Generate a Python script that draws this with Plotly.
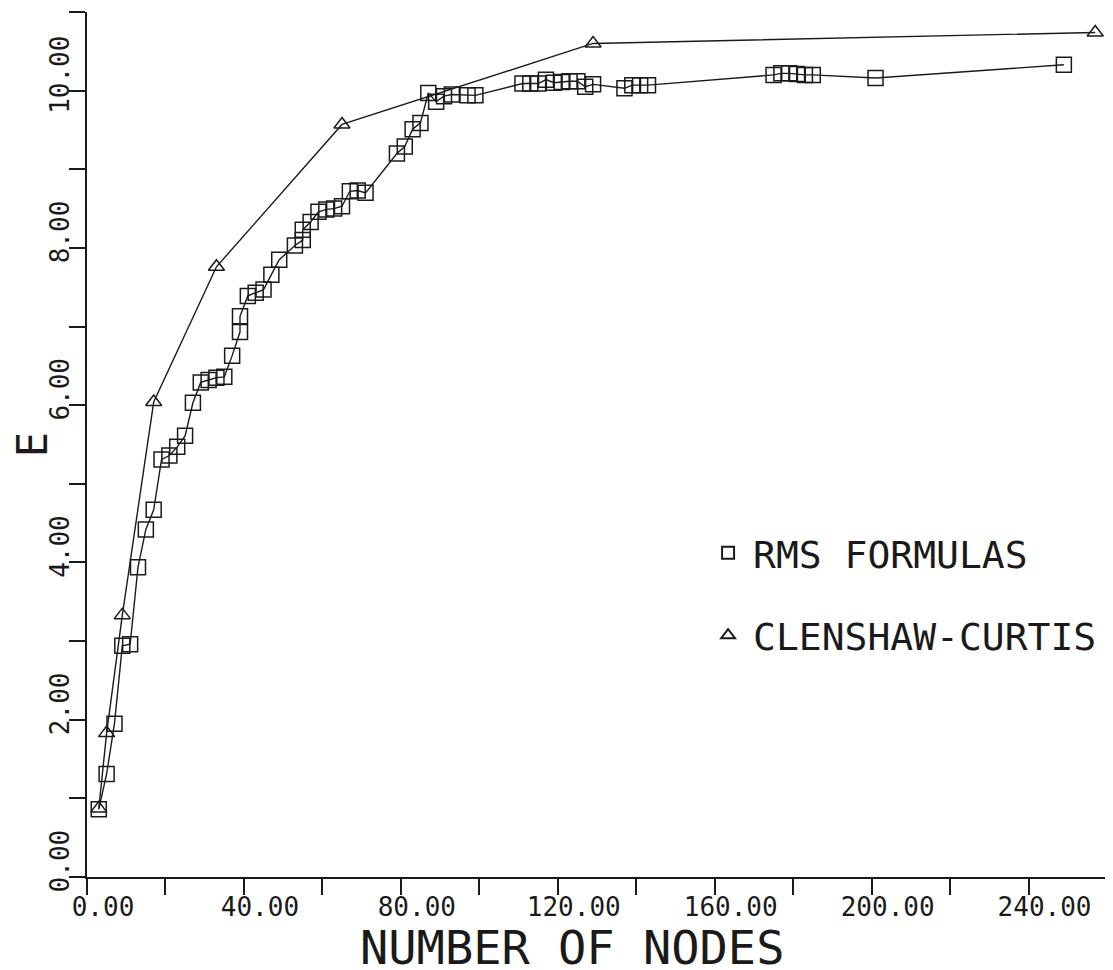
import plotly.graph_objects as go

# ---- data ----
rms_nodes = [3, 5, 7, 9, 11, 13, 15, 17, 19, 21, 23, 25, 27, 29, 31, 33, 35, 37, 39, 39,
             41, 43, 45, 47, 49, 53, 55, 55, 57, 59, 61, 63, 65, 67, 69, 71,
             79, 81, 83, 85, 87, 89, 91, 93, 97, 99,
             111, 113, 115, 117, 119, 121, 123, 125, 127, 129,
             137, 139, 141, 143,
             175, 177, 179, 181, 183, 185, 201, 249]
rms_e = [0.86, 1.31, 1.95, 2.94, 2.96, 3.94, 4.42, 4.67, 5.31, 5.36, 5.47, 5.61, 6.03, 6.29, 6.32, 6.35, 6.36, 6.63, 6.93, 7.13,
         7.39, 7.43, 7.47, 7.66, 7.85, 8.03, 8.10, 8.23, 8.33, 8.46, 8.49, 8.50, 8.53, 8.72, 8.73, 8.70,
         9.20, 9.29, 9.51, 9.59, 9.97, 9.86, 9.93, 9.95, 9.94, 9.94,
         10.09, 10.09, 10.09, 10.14, 10.10, 10.11, 10.12, 10.12, 10.05, 10.08,
         10.03, 10.07, 10.07, 10.07,
         10.20, 10.22, 10.22, 10.21, 10.20, 10.20, 10.16, 10.33]

cc_nodes = [3, 5, 9, 17, 33, 65, 129, 257]
cc_e = [0.87, 1.83, 3.33, 6.04, 7.76, 9.57, 10.60, 10.74]

series_names = ["RMS FORMULAS", "CLENSHAW-CURTIS"]
x_title = "NUMBER OF NODES"
y_title = "E"

x_tick_vals = list(range(0, 261, 20))
x_tick_text = ["0.00", "", "40.00", "", "80.00", "", "120.00", "", "160.00", "", "200.00", "", "240.00", ""]
y_tick_vals = list(range(0, 12))
y_tick_text = ["0.00", "", "2.00", "", "4.00", "", "6.00", "", "8.00", "", "10.00", ""]

FONT = "DejaVu Sans Mono"
INK = "#1a1a1a"

fig = go.Figure()
for xs, ys, name, sym, sz, grp in [
    (rms_nodes, rms_e, series_names[0], "square-open", 15, "rms"),
    (cc_nodes, cc_e, series_names[1], "triangle-up-open", 14, "cc"),
]:
    # connecting line (not in legend)
    fig.add_trace(go.Scatter(
        x=xs, y=ys, mode="lines", showlegend=False, legendgroup=grp,
        line=dict(color=INK, width=1.4), cliponaxis=False, hoverinfo="skip",
    ))
    # markers (shown in legend)
    fig.add_trace(go.Scatter(
        x=xs, y=ys, mode="markers", name=name, legendgroup=grp,
        marker=dict(symbol=sym, size=sz, color=INK, line=dict(width=1.5, color=INK)),
        cliponaxis=False,
    ))

# the page places the plot 8px in from the top-left corner
fig.update_layout(
    width=1105, height=962,
    margin=dict(l=79, r=6, t=4, b=93, autoexpand=False),
    paper_bgcolor="white", plot_bgcolor="white",
    font=dict(family=FONT, color=INK),
    showlegend=True,
    legend=dict(
        x=0.604, y=0.327, xanchor="left", yanchor="middle",
        font=dict(family=FONT, size=38, color=INK),
        bgcolor="rgba(0,0,0,0)", borderwidth=0,
        tracegroupgap=30, traceorder="grouped", itemwidth=40,
        itemsizing="constant",
    ),
    xaxis=dict(
        range=[0, 260], showgrid=False, zeroline=False, automargin=False,
        showline=True, linecolor=INK, linewidth=2,
        ticks="outside", ticklen=16, tickwidth=2, tickcolor=INK,
        tickvals=x_tick_vals, ticktext=x_tick_text,
        tickfont=dict(family=FONT, size=26, color=INK),
        ticklabelshift=16, ticklabelstandoff=-10,
    ),
    yaxis=dict(
        range=[0, 11], showgrid=False, zeroline=False, automargin=False,
        showline=True, linecolor=INK, linewidth=2,
        ticks="outside", ticklen=16, tickwidth=2, tickcolor=INK,
        tickvals=y_tick_vals, ticktext=y_tick_text, tickangle=-90,
        tickfont=dict(family=FONT, size=26, color=INK),
        ticklabelshift=-12, ticklabelstandoff=-10,
        title=dict(text=y_title, font=dict(family=FONT, size=42, color=INK), standoff=22),
    ),
    annotations=[dict(
        text=x_title, xref="paper", yref="paper", x=0.4755, y=-0.082,
        xanchor="center", yanchor="middle", showarrow=False,
        font=dict(family=FONT, size=47, color=INK),
    )],
)

fig.write_html("out.html")
